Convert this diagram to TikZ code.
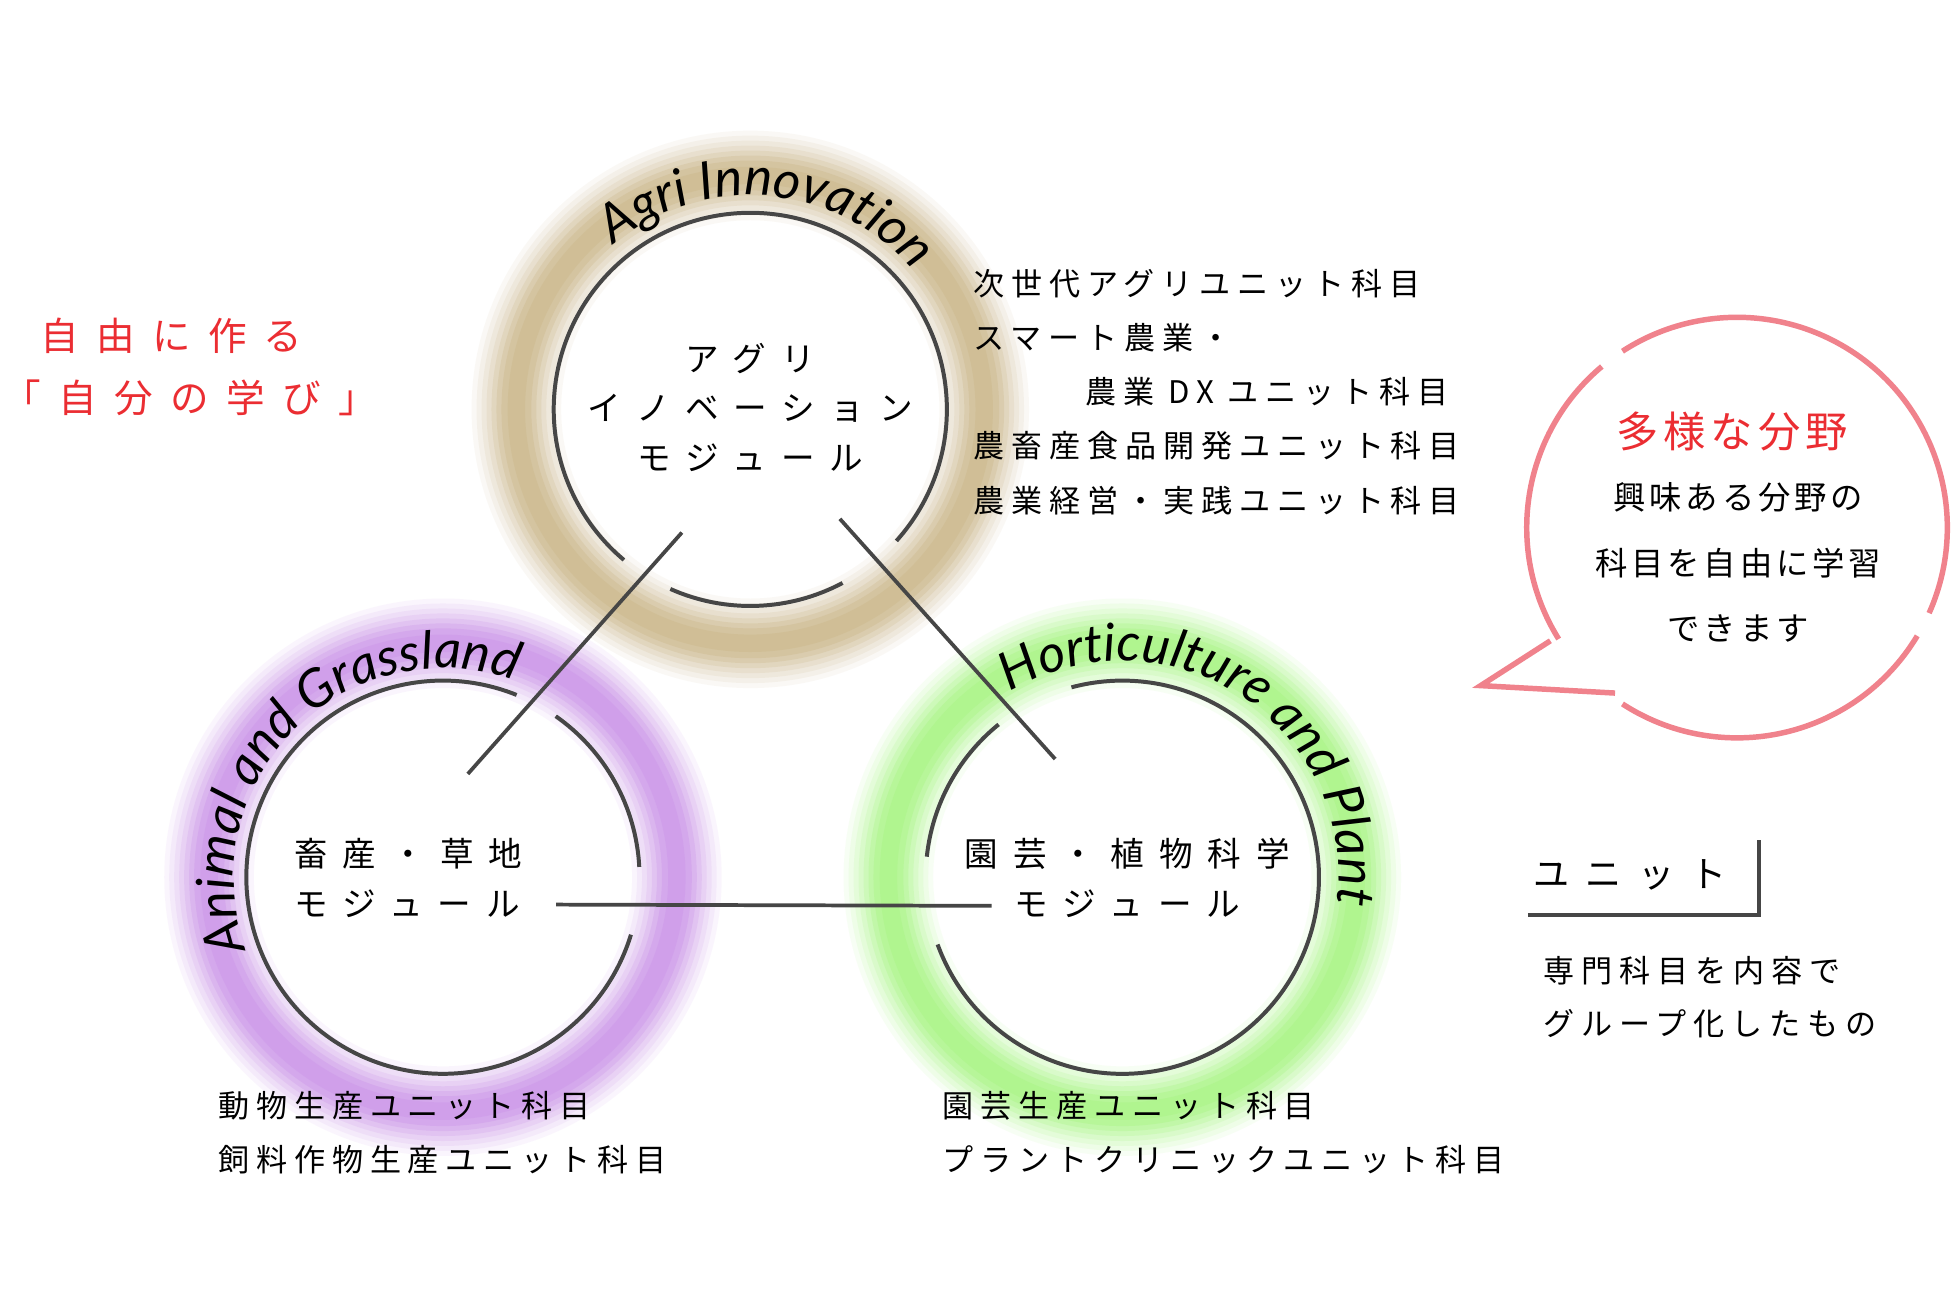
\documentclass[tikz,border=0pt]{standalone}
\usepackage{fontspec}
\usetikzlibrary{decorations.text}
\newfontfamily\jpA[LetterSpace=22]{Noto Sans CJK JP}
\newfontfamily\jpB[LetterSpace=45]{Noto Sans CJK JP}
\newfontfamily\jpC[LetterSpace=12]{Noto Sans CJK JP}
\newfontfamily\hand{Lato}
\definecolor{tanc}{RGB}{200,178,128}
\definecolor{purc}{RGB}{200,140,232}
\definecolor{grnc}{RGB}{160,245,120}
\definecolor{redt}{RGB}{235,45,50}
\definecolor{pinkc}{RGB}{240,130,140}
\definecolor{linec}{RGB}{70,70,70}
\tikzset{
 ring/.style={line width=1.6pt, draw=linec},
 conn/.style={line width=1.5pt, draw=linec},
 lst/.style={anchor=west, inner sep=0pt, font=\jpA\fontsize{12.5}{14}\selectfont},
 modl/.style={inner sep=0pt, font=\jpB\fontsize{13.5}{15}\selectfont},
 bub/.style={inner sep=0pt, font=\jpC\fontsize{13}{15}\selectfont},
}
\begin{document}
\begin{tikzpicture}[x=0.5pt,y=0.5pt]
\useasboundingbox (0,0) rectangle (1568,-1040);
\fill[white] (0,0) rectangle (1568,-1040);
\coordinate (ca) at (603,-329);
\coordinate (cb) at (356,-705);
\coordinate (cc) at (902,-705);
% glows
\foreach \cc/\col in {ca/tanc,cb/purc,cc/grnc}{
 \foreach \w/\o in {72/0.08,64/0.1,56/0.12,48/0.15,40/0.2,32/0.25,24/0.3,14/0.3}{
  \draw[\col, opacity=\o, line width=\w*0.5pt] (\cc) circle[radius=188];
 }
}
% inner rings with gaps
\draw[ring] (ca) ++(246:158) arc[start angle=246,end angle=298,radius=158];
\draw[ring] (ca) ++(318:158) arc[start angle=318,end angle=590,radius=158];
\draw[ring] (cb) ++(68:158) arc[start angle=68,end angle=343,radius=158];
\draw[ring] (cb) ++(3:158) arc[start angle=3,end angle=55,radius=158];
\draw[ring] (cc) ++(129:158) arc[start angle=129,end angle=174,radius=158];
\draw[ring] (cc) ++(200:158) arc[start angle=200,end angle=465,radius=158];
% connectors
\coordinate (a1) at (548,-428); \coordinate (b1) at (376,-622);
\coordinate (a2) at (675,-417); \coordinate (c2) at (848,-610);
\coordinate (b3) at (447,-727); \coordinate (c3) at (797,-728);
\draw[conn] (a1) -- (b1);
\draw[conn] (a2) -- (c2);
\draw[conn] (b3) -- (c3);
% curved titles
\path[decorate,decoration={text along path,text align=center,
 text={|\hand\itshape\fontsize{21}{21}\selectfont|Agri Innovation}}]
 (ca) ++(142:172) arc[start angle=142,end angle=28,radius=172];
\path[decorate,decoration={text along path,text align=center,
 text={|\hand\itshape\fontsize{21}{21}\selectfont|Animal and Grassland}}]
 (cb) ++(202:168) arc[start angle=202,end angle=68,radius=168];
\path[decorate,decoration={text along path,text align=center,
 text={|\hand\itshape\fontsize{21}{21}\selectfont|Horticulture and Plant}}]
 (cc) ++(126:174) arc[start angle=126,end angle=-12,radius=174];
% module labels
\node[modl] (ma1) at (603,-288) {アグリ};
\node[modl] (ma2) at (603,-328) {イノベーション};
\node[modl] (ma3) at (603,-368) {モジュール};
\node[modl,anchor=west] (mb1) at (236,-686) {畜産・草地};
\node[modl,anchor=west] (mb2) at (236,-726) {モジュール};
\node[modl] (mc1) at (906,-686) {園芸・植物科学};
\node[modl] (mc2) at (906,-726) {モジュール};
% lists
\node[lst] (t1) at (782,-228) {次世代アグリユニット科目};
\node[lst] (t2) at (782,-271) {スマート農業・};
\node[lst] (t3) at (872,-315) {農業 DX ユニット科目};
\node[lst] (t4) at (782,-358) {農畜産食品開発ユニット科目};
\node[lst] (t5) at (782,-402) {農業経営・実践ユニット科目};
\node[lst] (u1) at (175,-889) {動物生産ユニット科目};
\node[lst] (u2) at (175,-932) {飼料作物生産ユニット科目};
\node[lst] (v1) at (757,-889) {園芸生産ユニット科目};
\node[lst] (v2) at (757,-932) {プラントクリニックユニット科目};
% red title
\node[inner sep=0pt,text=redt,font=\jpB\fontsize{15.5}{17}\selectfont,anchor=west] (r1) at (32,-270) {自由に作る};
\node[inner sep=0pt,text=redt,font=\jpB\fontsize{15.5}{17}\selectfont,anchor=west] (r2) at (2,-320) {「自分の学び」};
% bubble
\coordinate (cd) at (1396,-424);
\draw[pinkc,line width=2.2pt] (cd) ++(130:169) arc[start angle=130,end angle=212,radius=169];
\draw[pinkc,line width=2.2pt] (cd) ++(237:169) arc[start angle=237,end angle=329,radius=169];
\draw[pinkc,line width=2.2pt] (cd) ++(-24:169) arc[start angle=-24,end angle=123,radius=169];
\coordinate (tp1) at (1246,-515); \coordinate (tip) at (1190,-551); \coordinate (tp2) at (1298,-557);
\draw[pinkc,line width=2.2pt,line join=miter] (tp1) -- (tip) -- (tp2);
\node[inner sep=0pt,text=redt,font=\jpC\fontsize{17}{19}\selectfont] (h1) at (1392,-347) {多様な分野};
\node[bub] (h2) at (1397,-400) {興味ある分野の};
\node[bub] (h3) at (1397,-453) {科目を自由に学習};
\node[bub] (h4) at (1397,-505) {できます};
% unit box
\node[inner sep=0pt,anchor=west,font=\jpB\fontsize{14.5}{16}\selectfont] (un) at (1232,-703) {ユニット};
\coordinate (ub1) at (1228,-735); \coordinate (ub2) at (1414,-735); \coordinate (ub3) at (1414,-675);
\draw[linec,line width=1.6pt] (ub1) -- (ub2) -- (ub3);
\node[lst] (w1) at (1240,-780) {専門科目を内容で};
\node[lst] (w2) at (1240,-823) {グループ化したもの};
\end{tikzpicture}
\end{document}
